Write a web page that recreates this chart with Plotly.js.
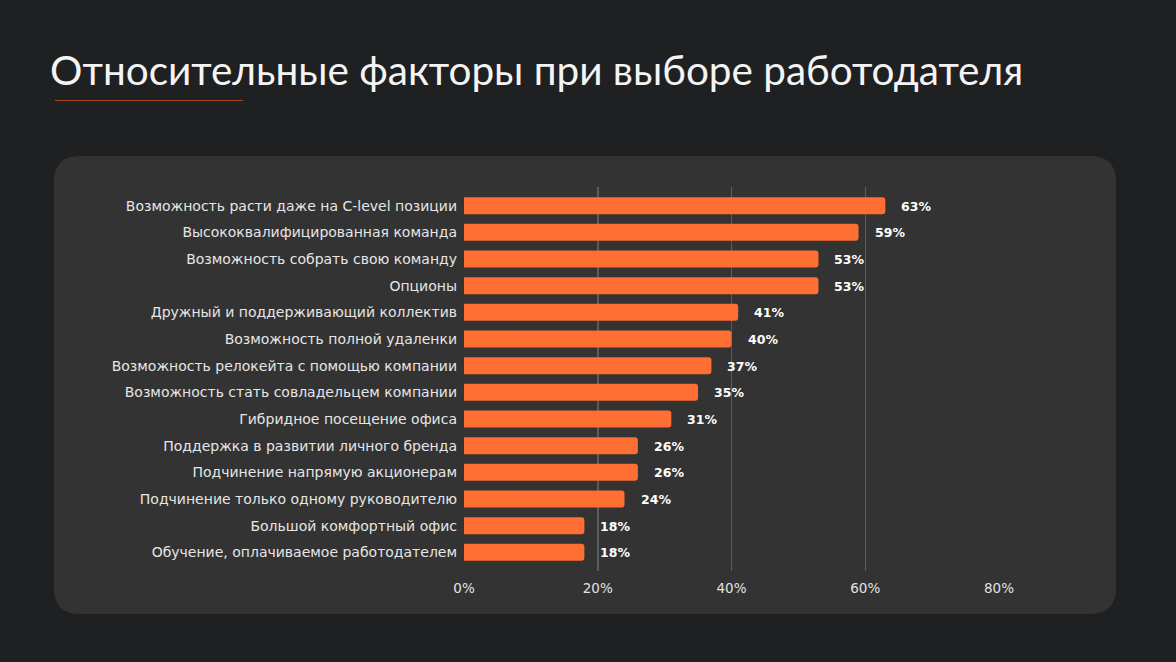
<!DOCTYPE html>
<html>
<head>
<meta charset="utf-8">
<script src="https://cdn.plot.ly/plotly-3.0.1.min.js"></script>
<style>
html,body{margin:0;padding:0;background:#1f2022;}
#chart{width:1176px;height:662px;}
</style>
</head>
<body>
<div id="chart"></div>
<script>
const titleText = "Относительные факторы при выборе работодателя";
const categories = [
  "Возможность расти даже на C-level позиции",
  "Высококвалифицированная команда",
  "Возможность собрать свою команду",
  "Опционы",
  "Дружный и поддерживающий коллектив",
  "Возможность полной удаленки",
  "Возможность релокейта с помощью компании",
  "Возможность стать совладельцем компании",
  "Гибридное посещение офиса",
  "Поддержка в развитии личного бренда",
  "Подчинение напрямую акционерам",
  "Подчинение только одному руководителю",
  "Большой комфортный офис",
  "Обучение, оплачиваемое работодателем"
];
const values = [63, 59, 53, 53, 41, 40, 37, 35, 31, 26, 26, 24, 18, 18];
const tickValues = [0, 20, 40, 60, 80];
const tickLabels = ["0%", "20%", "40%", "60%", "80%"];

const W = 1176, H = 662;
const L = 464, R = 999, T = 187, B = 571;
const px2x = p => (p - L) / (R - L);
const py2y = p => (B - p) / (B - T);

function roundedRect(x0, y0, x1, y1, r) {
  const X = px2x, Y = py2y;
  return `M ${X(x0 + r)} ${Y(y0)} L ${X(x1 - r)} ${Y(y0)} Q ${X(x1)} ${Y(y0)} ${X(x1)} ${Y(y0 + r)} ` +
    `L ${X(x1)} ${Y(y1 - r)} Q ${X(x1)} ${Y(y1)} ${X(x1 - r)} ${Y(y1)} ` +
    `L ${X(x0 + r)} ${Y(y1)} Q ${X(x0)} ${Y(y1)} ${X(x0)} ${Y(y1 - r)} ` +
    `L ${X(x0)} ${Y(y0 + r)} Q ${X(x0)} ${Y(y0)} ${X(x0 + r)} ${Y(y0)} Z`;
}

const ids = categories.map((c, i) => i);

const trace = {
  type: "bar",
  orientation: "h",
  x: values,
  y: ids,
  width: 0.64,
  marker: { color: "#ff6e33", cornerradius: 3, line: { width: 0 } },
  hoverinfo: "skip"
};

const annotations = values.map((v, i) => ({
  x: v, y: i, xref: "x", yref: "y",
  text: v + "%",
  showarrow: false,
  xanchor: "left",
  yanchor: "middle",
  xshift: 14,
  yshift: -0.5,
  font: { family: "DejaVu Sans, sans-serif", size: 12.5, color: "#ffffff", weight: 700 }
}));

const layout = {
  width: W, height: H,
  margin: { l: L, r: W - R, t: T, b: H - B, pad: 0 },
  paper_bgcolor: "#1f2022",
  plot_bgcolor: "rgba(0,0,0,0)",
  showlegend: false,
  title: {
    text: titleText,
    xref: "container", yref: "container",
    x: 50 / W, xanchor: "left",
    y: 1 - 71 / H, yanchor: "middle",
    font: { family: "Lato, sans-serif", size: 40.5, color: "#f4f4f4" }
  },
  xaxis: {
    range: [0, 80],
    tickvals: tickValues,
    ticktext: tickLabels,
    showgrid: true,
    gridcolor: "#5c5c5c",
    gridwidth: 1.5,
    zeroline: true,
    zerolinecolor: "#333333",
    zerolinewidth: 1,
    showline: false,
    ticks: "",
    ticklabelstandoff: 7,
    tickfont: { family: "DejaVu Sans, sans-serif", size: 13.5, color: "#e2e2e2" },
    fixedrange: true
  },
  yaxis: {
    range: [13.7, -0.7],
    tickvals: ids,
    ticktext: categories,
    showgrid: false,
    zeroline: false,
    showline: false,
    ticks: "",
    ticklabelstandoff: 6,
    tickfont: { family: "DejaVu Sans, sans-serif", size: 14, color: "#e6e6e6" },
    fixedrange: true
  },
  shapes: [
    {
      type: "path", xref: "paper", yref: "paper", layer: "below",
      path: roundedRect(54, 156, 1116, 614, 26),
      fillcolor: "#333333", line: { width: 0 }
    },
    {
      type: "line", xref: "paper", yref: "paper", layer: "above",
      x0: px2x(55), x1: px2x(243), y0: py2y(100.5), y1: py2y(100.5),
      line: { color: "#a54a1e", width: 1.2 }
    }
  ],
  annotations: annotations
};

Plotly.newPlot("chart", [trace], layout, { displayModeBar: false, staticPlot: true });
</script>
</body>
</html>
